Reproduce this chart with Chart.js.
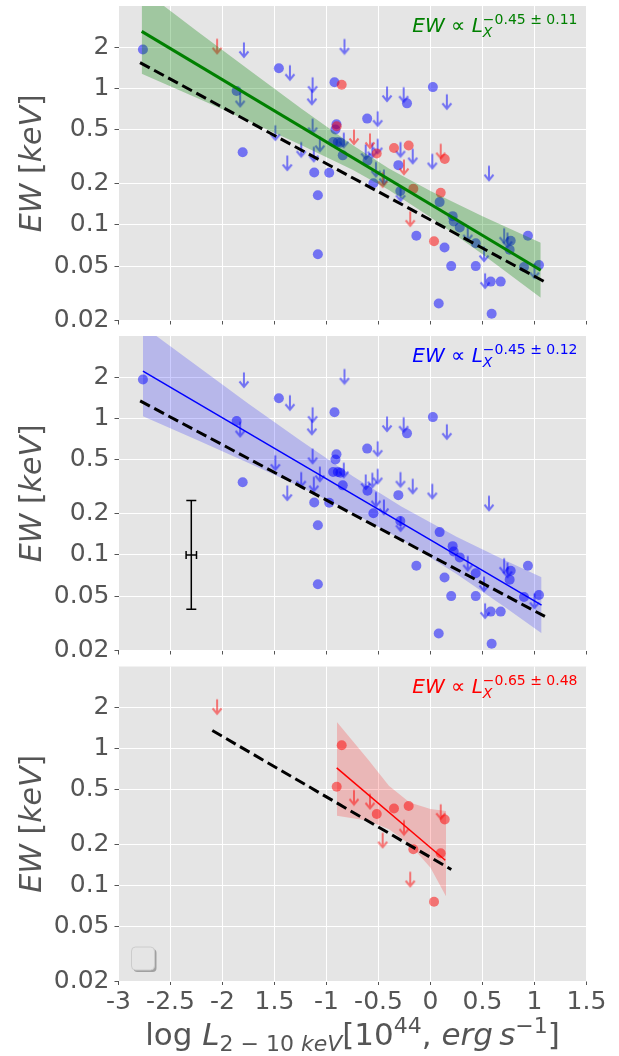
<!DOCTYPE html>
<html>
<head>
<meta charset="utf-8">
<script src="https://cdn.jsdelivr.net/npm/chart.js@4.4.0/dist/chart.umd.min.js"></script>
<style>
  html, body { margin: 0; padding: 0; background: #ffffff; }
  #wrap { position: relative; width: 619px; height: 1056px; overflow: hidden; }
  #wrap canvas { position: absolute; left: 0; }
</style>
</head>
<body>
<div id="wrap">
  <canvas id="pAll" width="619" height="330" style="top:0px"></canvas>
  <canvas id="pBlue" width="619" height="330" style="top:330px"></canvas>
  <canvas id="pRed" width="619" height="396" style="top:660px"></canvas>
</div>
<script>
// ---- axis ticks ----
const xTickValues = [-3, -2.5, -2, -1.5, -1, -0.5, 0, 0.5, 1, 1.5];
const xTickLabels = ['-3', '-2.5', '-2', '1.5', '-1', '-0.5', '0', '0.5', '1', '1.5'];
const yTickValues = [0.02, 0.05, 0.1, 0.2, 0.5, 1, 2];
const yTickLabels = ['0.02', '0.05', '0.1', '0.2', '0.5', '1', '2'];

// ---- blue sample: detections (log L, EW) ----
const blueDetLogL = [-2.765, -1.864, -1.806, -1.458, -0.923, -0.904, -0.914, -0.936, -0.891, -0.866,
  -0.844, -1.118, -0.974, -1.083, -1.083, -0.609, -0.606, -0.549, -0.309, -0.290,
  -0.226, 0.023, -0.136, 0.088, 0.213, 0.223, 0.281, 0.135, 0.199, 0.435,
  0.435, 0.079, 0.579, 0.675, 0.588, 0.771, 0.761, 0.937, 0.899, 1.043];
const blueDetEW = [1.92, 0.955, 0.34, 1.40, 1.107, 0.546, 0.50, 0.405, 0.405, 0.40,
  0.323, 0.242, 0.241, 0.165, 0.061, 0.60, 0.295, 0.202, 0.274, 0.177,
  0.776, 1.02, 0.0834, 0.147, 0.116, 0.106, 0.096, 0.0685, 0.050, 0.050,
  0.0736, 0.0266, 0.0385, 0.0385, 0.0224, 0.0766, 0.066, 0.0834, 0.0493, 0.051];
// ---- blue sample: upper limits ----
const blueUlLogL = [-1.794, -0.827, -1.352, -1.134, -1.141, -1.83, -1.134, -1.492, -1.064, -0.834,
  -1.243, -1.122, -1.377, -0.418, -0.258, -0.508, -0.623, -0.559, -0.508, -0.289,
  -0.171, -0.525, -0.448, -0.288, 0.157, 0.017, 0.562, 0.358, 0.708, 0.740,
  0.515, 0.525, 1.0];
const blueUlEW = [1.91, 2.02, 1.30, 1.06, 0.86, 0.83, 0.528, 0.472, 0.39, 0.417,
  0.356, 0.329, 0.284, 0.908, 0.897, 0.598, 0.342, 0.352, 0.376, 0.356,
  0.318, 0.255, 0.224, 0.169, 0.797, 0.292, 0.239, 0.0867, 0.0834, 0.0775,
  0.0612, 0.039, 0.046];

// ---- red sample ----
const redDetLogL = [-0.854, -0.902, -0.517, -0.351, -0.21, 0.137, -0.165, 0.098, 0.034];
const redDetEW = [1.06, 0.528, 0.333, 0.366, 0.381, 0.304, 0.184, 0.172, 0.076];
const redUlLogL = [-2.052, -0.736, -0.582, -0.46, -0.255, 0.098, -0.195];
const redUlEW = [2.03, 0.44, 0.412, 0.214, 0.265, 0.346, 0.111];

// ---- fits: combined sample ----
const allFitLogL = [-2.777, 1.06];
const allFitEW = [2.61, 0.0467];
const allBandLogL = [-2.777, -2.25, -1.75, -1.25, -0.75, -0.4, 0, 0.5, 1.06];
const allBandHi = [5.32, 2.64, 1.37, 0.716, 0.385, 0.259, 0.177, 0.116, 0.074];
const allBandLo = [1.28, 0.851, 0.577, 0.386, 0.253, 0.180, 0.114, 0.0611, 0.0294];
const allRefLogL = [-2.793, 1.1];
const allRefEW = [1.54, 0.0383];
const allSlopeText = '\u22120.45 \u00b1 0.11';

// ---- fits: blue sample ----
const blueFitLogL = [-2.765, 1.068];
const blueFitEW = [2.21, 0.043];
const blueBandLogL = [-2.765, -2.25, -1.75, -1.25, -0.75, -0.28, 0.25, 0.7, 1.068];
const blueBandHi = [4.73, 2.43, 1.28, 0.689, 0.378, 0.226, 0.136, 0.0925, 0.0687];
const blueBandLo = [1.035, 0.698, 0.471, 0.315, 0.204, 0.130, 0.0725, 0.0423, 0.0267];
const blueRefLogL = [-2.792, 1.1];
const blueRefEW = [1.34, 0.0355];
const blueSlopeText = '\u22120.45 \u00b1 0.12';

// ---- fits: red sample ----
const redFitLogL = [-0.902, 0.142];
const redFitEW = [0.725, 0.153];
const redBandLogL = [-0.9, -0.6, -0.4, -0.2, 0, 0.15];
const redBandHi = [1.57, 0.835, 0.537, 0.405, 0.362, 0.35];
const redBandLo = [0.323, 0.297, 0.258, 0.2, 0.135, 0.083];
const redRefLogL = [-2.098, 0.2];
const redRefEW = [1.36, 0.131];
const redSlopeText = '\u22120.65 \u00b1 0.48';

// ---- typical uncertainty ----
const typErrLogL = -2.3;
const typErrEW = 0.1;
const typErrEWRange = [0.04, 0.25];
const typErrLogLRange = [-2.35, -2.25];

// ---------------------------------------------------------------
const FONT = "'DejaVu Sans'";
const GREY = '#555555';
Chart.defaults.font.family = FONT;

const pts = (xs, ys) => xs.map((x, i) => ({ x: x, y: ys[i] }));

function makeArrow(color) {
  const c = document.createElement('canvas');
  c.width = 14; c.height = 18;
  const g = c.getContext('2d');
  g.strokeStyle = color;
  g.lineWidth = 2;
  g.lineJoin = 'miter';
  g.beginPath();
  g.moveTo(7, 1.5); g.lineTo(7, 16);
  g.moveTo(2.5, 10.5); g.lineTo(7, 16); g.lineTo(11.5, 10.5);
  g.stroke();
  return c;
}
const blueArrow = makeArrow('rgba(0,0,255,0.5)');
const redArrow = makeArrow('rgba(255,0,0,0.5)');

function scatterSet(xs, ys, color, order) {
  return { data: pts(xs, ys), showLine: false, pointRadius: 5, pointHoverRadius: 5,
    pointBorderWidth: 0, pointBackgroundColor: color, pointBorderColor: 'rgba(0,0,0,0)', order: order };
}
function arrowSet(xs, ys, img, order) {
  return { data: pts(xs, ys), showLine: false, pointRadius: 5, pointHoverRadius: 5,
    pointStyle: img, order: order };
}
function lineSet(xs, ys, color, width, order, dash) {
  return { data: pts(xs, ys), showLine: true, borderColor: color, borderWidth: width,
    borderDash: dash || [], pointRadius: 0, fill: false, order: order, borderCapStyle: 'butt' };
}
function bandSets(xs, hi, lo, color, order) {
  return [
    { data: pts(xs, hi), showLine: true, borderColor: 'rgba(0,0,0,0)', borderWidth: 1,
      pointRadius: 0, fill: '+1', backgroundColor: color, order: order },
    { data: pts(xs, lo), showLine: true, borderColor: 'rgba(0,0,0,0)', borderWidth: 1,
      pointRadius: 0, fill: false, order: order }
  ];
}

// mixed-style text runs; an array inside the list stacks its items at one x
function fontOf(r) { return (r.italic ? 'italic ' : '') + r.size + 'px ' + FONT; }
function runsWidth(ctx, runs) {
  let w = 0;
  for (const r of runs) {
    const group = Array.isArray(r) ? r : [r];
    let adv = 0;
    for (const q of group) { ctx.font = fontOf(q); adv = Math.max(adv, ctx.measureText(q.t).width); }
    w += adv;
  }
  return w;
}
function drawRuns(ctx, runs, x, y, color) {
  ctx.fillStyle = color;
  ctx.textAlign = 'left';
  ctx.textBaseline = 'alphabetic';
  let cx = x;
  for (const r of runs) {
    const group = Array.isArray(r) ? r : [r];
    let adv = 0;
    for (const q of group) {
      ctx.font = fontOf(q);
      ctx.fillText(q.t, cx, y + (q.dy || 0));
      adv = Math.max(adv, ctx.measureText(q.t).width);
    }
    cx += adv;
  }
}

const yTitleRuns = [
  { t: 'EW', size: 30, italic: true },
  { t: ' [', size: 30 },
  { t: 'keV', size: 30, italic: true },
  { t: ']', size: 30 }
];
const xTitleRuns = [
  { t: 'log ', size: 31 },
  { t: 'L', size: 31, italic: true },
  { t: '2 \u2212 10 ', size: 22, dy: 6 },
  { t: 'keV', size: 22, italic: true, dy: 6 },
  { t: '[10', size: 31 },
  { t: '44', size: 22, dy: -12 },
  { t: ', ', size: 31 },
  { t: 'erg', size: 31, italic: true },
  { t: '\u2009', size: 31 },
  { t: 's', size: 31, italic: true },
  { t: '\u22121', size: 22, dy: -12 },
  { t: ']', size: 31 }
];
function slopeRuns(expText) {
  return [
    { t: 'EW', size: 20, italic: true },
    { t: ' \u221d ', size: 20 },
    { t: 'L', size: 20, italic: true },
    [ { t: 'X', size: 14, italic: true, dy: 5 }, { t: expText, size: 14, dy: -8.3 } ]
  ];
}

function makePanel(id, cfg) {
  const decorations = {
    id: 'decor' + id,
    beforeDraw(chart) {
      const a = chart.chartArea, ctx = chart.ctx;
      ctx.save();
      ctx.fillStyle = '#E5E5E5';
      ctx.fillRect(a.left, a.top, a.right - a.left, a.bottom - a.top);
      ctx.restore();
    },
    afterDraw(chart) {
      const a = chart.chartArea, ctx = chart.ctx;
      ctx.save();
      // y-axis title, rotated
      const cy = (a.top + a.bottom) / 2;
      ctx.translate(41, cy);
      ctx.rotate(-Math.PI / 2);
      drawRuns(ctx, yTitleRuns, -runsWidth(ctx, yTitleRuns) / 2, 0, GREY);
      ctx.restore();

      // power-law annotation
      ctx.save();
      const sr = slopeRuns(cfg.slopeText);
      drawRuns(ctx, sr, a.right - 9 - runsWidth(ctx, sr), a.top + 26.3, cfg.textColor);
      ctx.restore();

      if (cfg.errorBar) {
        const xs = chart.scales.x, ys = chart.scales.y;
        const px = xs.getPixelForValue(typErrLogL), py = ys.getPixelForValue(typErrEW);
        const y0 = ys.getPixelForValue(typErrEWRange[0]), y1 = ys.getPixelForValue(typErrEWRange[1]);
        const x0 = xs.getPixelForValue(typErrLogLRange[0]), x1 = xs.getPixelForValue(typErrLogLRange[1]);
        ctx.save();
        ctx.strokeStyle = '#000';
        ctx.lineWidth = 1.5;
        ctx.beginPath();
        ctx.moveTo(px, y0); ctx.lineTo(px, y1);
        ctx.moveTo(px - 5, y0); ctx.lineTo(px + 5, y0);
        ctx.moveTo(px - 5, y1); ctx.lineTo(px + 5, y1);
        ctx.moveTo(x0, py); ctx.lineTo(x1, py);
        ctx.moveTo(x0, py - 4); ctx.lineTo(x0, py + 4);
        ctx.moveTo(x1, py - 4); ctx.lineTo(x1, py + 4);
        ctx.stroke();
        ctx.restore();
      }

      if (cfg.bottom) {
        // x-axis title
        ctx.save();
        const w = runsWidth(ctx, xTitleRuns);
        drawRuns(ctx, xTitleRuns, (a.left + a.right) / 2 - w / 2, 1045 - 660, GREY);
        ctx.restore();
        // empty legend frame
        ctx.save();
        const lx = a.left + 13, ly = a.bottom - 11 - 23, s = 23, r = 4;
        const rr = (x, y) => { ctx.beginPath(); ctx.roundRect(x, y, s, s, r); };
        rr(lx + 2, ly + 2);
        ctx.fillStyle = 'rgba(0,0,0,0.3)';
        ctx.fill();
        rr(lx, ly);
        ctx.fillStyle = '#E5E5E5';
        ctx.fill();
        ctx.strokeStyle = '#CCCCCC';
        ctx.lineWidth = 1;
        ctx.stroke();
        ctx.restore();
      }
    }
  };

  return new Chart(document.getElementById(id), {
    type: 'line',
    data: { datasets: cfg.datasets },
    options: {
      responsive: false,
      animation: false,
      devicePixelRatio: 1,
      layout: { padding: { left: 0, right: 32.5, top: cfg.top, bottom: 0 } },
      plugins: { legend: { display: false }, tooltip: { enabled: false } },
      scales: {
        x: {
          type: 'linear', min: -3, max: 1.5,
          afterBuildTicks(s) { s.ticks = xTickValues.map(v => ({ value: v })); },
          afterFit(s) { s.height = cfg.xHeight; s.paddingLeft = 0; s.paddingRight = 0; },
          ticks: {
            display: !!cfg.bottom, autoSkip: false, maxRotation: 0, padding: 2,
            color: GREY, font: { family: FONT, size: 25 },
            callback: (v) => xTickLabels[xTickValues.indexOf(v)]
          },
          grid: { color: '#FFFFFF', lineWidth: 1, drawTicks: true, tickLength: 4, tickColor: GREY, tickWidth: 1 },
          border: { display: false }
        },
        y: {
          type: 'logarithmic', min: 0.02, max: 4,
          afterBuildTicks(s) { s.ticks = yTickValues.map(v => ({ value: v })); },
          afterFit(s) { s.width = 118.5; s.paddingTop = 0; s.paddingBottom = 0; },
          ticks: {
            autoSkip: false, padding: 5, color: GREY, font: { family: FONT, size: 25 },
            callback: (v) => yTickLabels[yTickValues.indexOf(v)]
          },
          grid: { color: '#FFFFFF', lineWidth: 1, drawTicks: true, tickLength: 4, tickColor: GREY, tickWidth: 1 },
          border: { display: false }
        }
      }
    },
    plugins: [decorations]
  });
}

// combined sample
makePanel('pAll', {
  top: 6, xHeight: 9.5, textColor: '#008000', slopeText: allSlopeText,
  datasets: [
    lineSet(allRefLogL, allRefEW, '#000000', 3, 0, [11, 5]),
    lineSet(allFitLogL, allFitEW, '#008000', 3, 1),
    ...bandSets(allBandLogL, allBandHi, allBandLo, 'rgba(0,128,0,0.3)', 2),
    arrowSet(redUlLogL, redUlEW, redArrow, 3),
    scatterSet(redDetLogL, redDetEW, 'rgba(255,0,0,0.5)', 4),
    arrowSet(blueUlLogL, blueUlEW, blueArrow, 5),
    scatterSet(blueDetLogL, blueDetEW, 'rgba(0,0,255,0.5)', 6)
  ]
});

// blue sample
makePanel('pBlue', {
  top: 6, xHeight: 9.5, textColor: '#0000FF', slopeText: blueSlopeText, errorBar: true,
  datasets: [
    lineSet(blueRefLogL, blueRefEW, '#000000', 3, 0, [11, 5]),
    lineSet(blueFitLogL, blueFitEW, '#0000FF', 1.5, 1),
    ...bandSets(blueBandLogL, blueBandHi, blueBandLo, 'rgba(0,0,255,0.2)', 2),
    arrowSet(blueUlLogL, blueUlEW, blueArrow, 5),
    scatterSet(blueDetLogL, blueDetEW, 'rgba(0,0,255,0.5)', 6)
  ]
});

// red sample
makePanel('pRed', {
  top: 6.5, xHeight: 75, textColor: '#FF0000', slopeText: redSlopeText, bottom: true,
  datasets: [
    lineSet(redRefLogL, redRefEW, '#000000', 3, 0, [11, 5]),
    lineSet(redFitLogL, redFitEW, '#FF0000', 1.5, 1),
    ...bandSets(redBandLogL, redBandHi, redBandLo, 'rgba(255,0,0,0.2)', 2),
    arrowSet(redUlLogL, redUlEW, redArrow, 3),
    scatterSet(redDetLogL, redDetEW, 'rgba(255,0,0,0.5)', 4)
  ]
});
</script>
</body>
</html>
